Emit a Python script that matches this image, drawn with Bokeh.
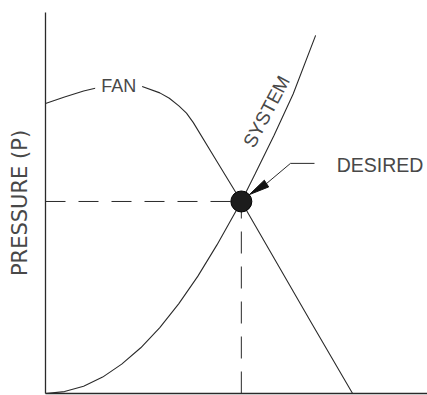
import math
from bokeh.plotting import figure
from bokeh.models import Range1d, Label, FixedTicker
from bokeh.embed import file_html
from bokeh.resources import INLINE

# ---- data ----
fan_x = [0, 5, 10, 15, 20, 25, 30, 32.5, 35, 37, 38.8, 45, 51.4, 60, 70, 80.6]
fan_y = [76.1, 77.8, 79.4, 80.6, 81.4, 80.7, 78.9, 77.5, 75.5, 73.6, 71.1, 60.9, 50.4, 35.5, 18.2, 0]

system_x = [0, 5, 10, 15, 20, 25, 30, 35, 40, 45, 51.4, 55, 60, 65, 70.9]
system_y = [0, 0.5, 1.9, 4.3, 7.7, 12.0, 17.3, 23.6, 30.8, 39.0, 50.4, 57.6, 67.8, 78.6, 94.0]

desired_x = 51.4
desired_y = 50.4

LINE = "#2a2a2a"
TEXT = "#484848"

p = figure(width=427, height=395, x_range=Range1d(0, 100.26), y_range=Range1d(0, 100),
           output_backend="svg", toolbar_location=None,
           min_border_left=45, min_border_top=12, min_border_bottom=2, min_border_right=0)
p.xgrid.visible = False
p.ygrid.visible = False
p.outline_line_color = None
p.background_fill_color = "white"
p.border_fill_color = "white"

for ax in (p.xaxis, p.yaxis):
    ax.ticker = FixedTicker(ticks=[])
    ax.minor_tick_line_color = None
    ax.major_tick_line_color = None
    ax.major_tick_out = 0
    ax.major_tick_in = 0
    ax.major_label_standoff = 0
    ax.major_label_text_font_size = "0px"
    ax.axis_line_color = LINE
    ax.axis_line_width = 1.3

p.yaxis.axis_label = "PRESSURE (P)"
p.yaxis.axis_label_text_font = "DejaVu Sans"
p.yaxis.axis_label_text_font_style = "normal"
p.yaxis.axis_label_text_font_size = "21px"
p.yaxis.axis_label_text_color = TEXT
p.yaxis.axis_label_standoff = 14

# dashed guides to the operating point
p.line([0, desired_x], [desired_y, desired_y], line_color=LINE, line_width=1, line_dash="20 13")
p.line([desired_x, desired_x], [0, desired_y], line_color=LINE, line_width=1, line_dash="22 13")

# curves
p.line(fan_x, fan_y, line_color=LINE, line_width=1.1)
p.line(system_x, system_y, line_color=LINE, line_width=1.1)

# operating point
p.scatter([desired_x], [desired_y], size=21, marker="circle", fill_color="#1c1c1c", line_color="#000000")

# leader + arrowhead for "DESIRED"
sx, sy = 3.81, 3.81  # px per data unit
tip = (53.5, 52.2)
base = (58.0, 55.1)
elbow = (64.3, 60.4)
end = (70.6, 60.4)
p.line([base[0], elbow[0], end[0]], [base[1], elbow[1], end[1]], line_color=LINE, line_width=1)
dxp = (base[0] - tip[0]) * sx
dyp = (base[1] - tip[1]) * sy
L = math.hypot(dxp, dyp)
hw = 4.0
px_, py_ = -dyp / L * hw, dxp / L * hw
p.patch([tip[0], base[0] + px_ / sx, base[0] - px_ / sx],
        [tip[1], base[1] + py_ / sy, base[1] - py_ / sy],
        fill_color="#111111", line_color="#111111", line_width=1)

# text labels
p.add_layout(Label(x=19.2, y=80.8, text="FAN", text_align="center", text_baseline="middle",
                   text_font="Liberation Sans", text_font_size="18px", text_color=TEXT,
                   background_fill_color="white", padding=6))
p.add_layout(Label(x=58.0, y=74.0, text="SYSTEM", text_align="center", text_baseline="middle",
                   angle=math.radians(62), text_font="Liberation Sans", text_font_size="19px",
                   text_color=TEXT))
p.add_layout(Label(x=87.8, y=60.0, text="DESIRED", text_align="center", text_baseline="middle",
                   text_font="Liberation Sans", text_font_size="19.5px", text_color=TEXT))

open("out.html", "w").write(file_html(p, INLINE))
